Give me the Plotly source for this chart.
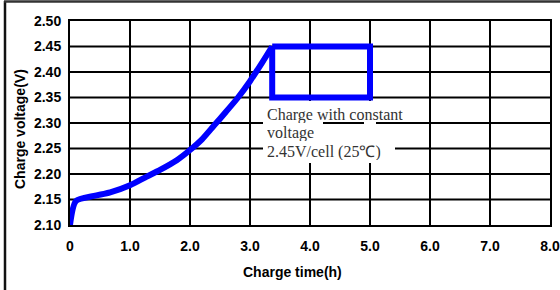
import plotly.graph_objects as go

# ---- data ----
charge_time = [0, 0.1, 0.4, 0.67, 1.0, 1.28, 1.5, 1.78, 2.0, 2.2, 2.4, 2.6, 2.8, 3.0, 3.2, 3.37]
charge_voltage = [2.10, 2.147, 2.157, 2.164, 2.178, 2.195, 2.208, 2.227, 2.247, 2.268, 2.295, 2.322, 2.35, 2.382, 2.418, 2.45]
# constant-voltage box (time start/end, voltage top/bottom)
cv_time = [3.37, 5.0, 5.0, 3.37, 3.37]
cv_voltage = [2.45, 2.45, 2.35, 2.35, 2.45]

x_tickvals = [0, 1, 2, 3, 4, 5, 6, 7, 8]
x_ticktext = ["0", "1.0", "2.0", "3.0", "4.0", "5.0", "6.0", "7.0", "8.0"]
y_tickvals = [2.10, 2.15, 2.20, 2.25, 2.30, 2.35, 2.40, 2.45, 2.50]
y_ticktext = ["2.10", "2.15", "2.20", "2.25", "2.30", "2.35", "2.40", "2.45", "2.50"]

note_lines = ["Charge with constant", "voltage", "2.45V/cell (25℃)"]

# ---- layout geometry (pixels) ----
W, H = 560, 290
L, R, T, B = 70, 10, 21, 65
PW, PH = W - L - R, H - T - B


def px(x):
    return (x - L) / PW


def py(y):
    return (H - B - y) / PH


fig = go.Figure()
fig.add_trace(go.Scatter(
    x=charge_time, y=charge_voltage,
    mode="lines", line=dict(color="#0000FF", width=6, shape="spline", smoothing=0.7),
    hoverinfo="skip", showlegend=False,
))
fig.add_trace(go.Scatter(
    x=cv_time, y=cv_voltage,
    mode="lines", line=dict(color="#0000FF", width=6),
    hoverinfo="skip", showlegend=False,
))

bold = dict(family="Liberation Sans", size=14, color="black")

shapes = []
# grid lines (drawn as shapes so the note masks can sit on top of them)
for xv in x_tickvals[1:-1]:
    shapes.append(dict(type="line", xref="x", yref="paper", x0=xv, x1=xv, y0=0, y1=1,
                       line=dict(color="black", width=2), layer="below"))
for yv in y_tickvals[1:-1]:
    shapes.append(dict(type="line", xref="paper", yref="y", x0=0, x1=1, y0=yv, y1=yv,
                       line=dict(color="black", width=2), layer="below"))
# white masks behind the note text
for (x0, x1, y0, y1) in [(263, 407, 101, 121), (263, 323, 121, 140), (263, 395, 140, 163), (364, 376, 121, 140)]:
    shapes.append(dict(type="rect", xref="paper", yref="paper",
                       x0=px(x0), x1=px(x1), y0=py(y1), y1=py(y0),
                       fillcolor="white", line=dict(width=0), layer="below"))
# outer frame (left and top)
shapes.append(dict(type="line", xref="paper", yref="paper",
                   x0=px(5), x1=px(5), y0=py(292), y1=py(1),
                   line=dict(color="#111", width=2.5), layer="above"))
shapes.append(dict(type="line", xref="paper", yref="paper",
                   x0=px(4), x1=px(562), y0=py(1.5), y1=py(1.5),
                   line=dict(color="#333", width=2.5), layer="above"))

annotations = []
for txt, yc in zip(note_lines, [114, 132.5, 151]):
    annotations.append(dict(
        text=txt, xref="paper", yref="paper", x=px(265), y=py(yc),
        xanchor="left", yanchor="middle", showarrow=False, height=17,
        font=dict(family="Liberation Serif", size=16, color="#333"),
    ))
annotations.append(dict(text="<b>Charge time(h)</b>", xref="paper", yref="paper",
                        x=px(292), y=py(272), xanchor="center", yanchor="middle",
                        showarrow=False, font=dict(family="Liberation Sans", size=14, color="black")))
annotations.append(dict(text="<b>Charge voltage(V)</b>", xref="paper", yref="paper",
                        x=px(20), y=py(129), xanchor="center", yanchor="middle", textangle=-90,
                        showarrow=False, font=dict(family="Liberation Sans", size=14, color="black")))

axis_common = dict(showline=True, mirror=True, linecolor="black", linewidth=2,
                   showgrid=False, zeroline=False, automargin=False,
                   ticks="", tickfont=bold, fixedrange=True)

fig.update_layout(
    width=W, height=H, autosize=False,
    margin=dict(l=L, r=R, t=T, b=B, pad=0, autoexpand=False),
    paper_bgcolor="white", plot_bgcolor="white",
    xaxis=dict(range=[0, 8], tickvals=x_tickvals,
               ticktext=["<b>" + t + "</b>" for t in x_ticktext],
               ticklabelstandoff=7, **axis_common),
    yaxis=dict(range=[2.10, 2.50], tickvals=y_tickvals,
               ticktext=["<b>" + t + "</b>" for t in y_ticktext],
               ticklabelstandoff=4, **axis_common),
    shapes=shapes, annotations=annotations,
    showlegend=False,
)

fig.write_html(
    "out.html",
    config={"responsive": False, "displayModeBar": False},
    post_script="document.body.style.margin='0';document.body.style.overflow='hidden';",
)
